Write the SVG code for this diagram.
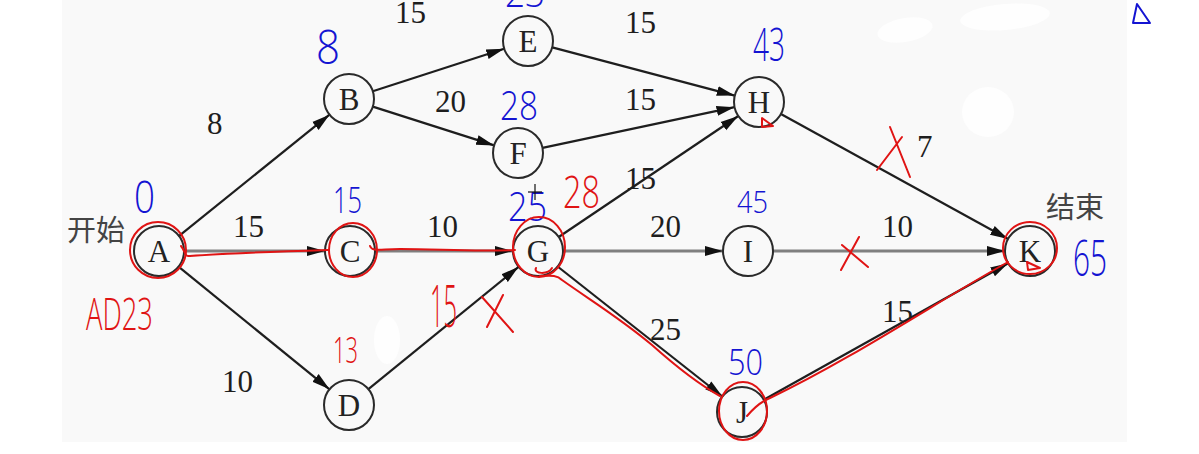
<svg xmlns="http://www.w3.org/2000/svg" width="1199" height="454" viewBox="0 0 1199 454">
<defs>
<style>
.node circle{fill:none;stroke:#2a2a2a;stroke-width:2}
.node text{font-family:"Liberation Serif",serif;font-size:31px;fill:#222;text-anchor:middle}
.edge{stroke:#1e1e1e;stroke-width:2.2;fill:none;marker-end:url(#arr)}
.edge.h{stroke:#808080;stroke-width:3.2}
.lbl{font-family:"Liberation Serif",serif;font-size:31px;fill:#1e1e1e}
.cn{font-family:"Noto Sans CJK SC",sans-serif;font-size:29px;fill:#444}
.hb{font-family:"Open Sans","Liberation Sans",sans-serif;font-weight:300;fill:#1414d2}
.hr{font-family:"Open Sans","Liberation Sans",sans-serif;font-weight:300;fill:#e01414}
.rs{stroke:#e01414;stroke-width:2;fill:none;stroke-linecap:round;stroke-linejoin:round}
</style>
<marker id="arr" markerUnits="userSpaceOnUse" markerWidth="20" markerHeight="12" refX="18" refY="6" orient="auto">
<path d="M0,1 L18,6 L0,11 Z" fill="#111"/>
</marker>
</defs>
<rect width="1199" height="454" fill="#ffffff"/>
<rect x="62" y="0" width="1065" height="442" fill="#f9f9f9"/>
<g id="blobs" fill="#fefefe">
<ellipse cx="905" cy="30" rx="28" ry="12" transform="rotate(-10 905 30)"/>
<ellipse cx="1005" cy="17" rx="45" ry="13" transform="rotate(-5 1005 17)"/>
<ellipse cx="988" cy="112" rx="26" ry="25"/>
<ellipse cx="387" cy="340" rx="13" ry="24"/>
</g>
<g id="connectors">
<line class="edge" x1="178.5" y1="236.3" x2="329.5" y2="114.7"/>
<line class="edge h" x1="184" y1="251" x2="325" y2="251"/>
<line class="edge" x1="178.5" y1="266.7" x2="329.5" y2="389.3"/>
<line class="edge" x1="372.8" y1="91.3" x2="504.2" y2="48.7"/>
<line class="edge" x1="372.8" y1="106.6" x2="494.2" y2="145.4"/>
<line class="edge h" x1="375" y1="251" x2="513" y2="251"/>
<line class="edge" x1="368.4" y1="389.2" x2="518.6" y2="266.8"/>
<line class="edge" x1="552.2" y1="47.4" x2="734.8" y2="95.6"/>
<line class="edge" x1="542.5" y1="147.8" x2="734.5" y2="107.2"/>
<line class="edge" x1="558.7" y1="237" x2="738.3" y2="116"/>
<line class="edge h" x1="563" y1="251" x2="723" y2="251"/>
<line class="edge" x1="557.6" y1="266.5" x2="722.4" y2="396.5"/>
<line class="edge" x1="780.9" y1="114" x2="1008.1" y2="239"/>
<line class="edge h" x1="773" y1="251" x2="1005" y2="251"/>
<line class="edge" x1="763.8" y1="399.8" x2="1008.2" y2="263.2"/>
</g>
<g id="edge-labels">
<text class="lbl" x="207" y="134">8</text>
<text class="lbl" x="395" y="23">15</text>
<text class="lbl" x="435" y="112">20</text>
<text class="lbl" x="625" y="33">15</text>
<text class="lbl" x="625" y="110">15</text>
<text class="lbl" x="625" y="189">15</text>
<text class="lbl" x="917" y="157">7</text>
<text class="lbl" x="233" y="237">15</text>
<text class="lbl" x="427" y="237">10</text>
<text class="lbl" x="650" y="237">20</text>
<text class="lbl" x="882" y="237">10</text>
<text class="lbl" x="650" y="340">25</text>
<text class="lbl" x="882" y="322">15</text>
<text class="lbl" x="222" y="392">10</text>
</g>
<g id="node-A" class="node"><circle cx="159" cy="251" r="25"/><text x="159" y="262">A</text></g>
<g id="node-B" class="node"><circle cx="349" cy="99" r="25"/><text x="349" y="110">B</text></g>
<g id="node-C" class="node"><circle cx="350" cy="251" r="25"/><text x="350" y="262">C</text></g>
<g id="node-D" class="node"><circle cx="349" cy="405" r="25"/><text x="349" y="416">D</text></g>
<g id="node-E" class="node"><circle cx="528" cy="41" r="25"/><text x="528" y="52">E</text></g>
<g id="node-F" class="node"><circle cx="518" cy="153" r="25"/><text x="518" y="164">F</text></g>
<g id="node-G" class="node"><circle cx="538" cy="251" r="25"/><text x="538" y="262">G</text></g>
<g id="node-H" class="node"><circle cx="759" cy="102" r="25"/><text x="759" y="113">H</text></g>
<g id="node-I" class="node"><circle cx="748" cy="251" r="25"/><text x="748" y="262">I</text></g>
<g id="node-J" class="node"><circle cx="742" cy="412" r="25"/><text x="742" y="423">J</text></g>
<g id="node-K" class="node"><circle cx="1030" cy="251" r="25"/><text x="1030" y="262">K</text></g>
<text class="cn" x="67" y="241">开始</text>
<text class="cn" x="1046" y="218">结束</text>
<g id="blue-notes">
<text class="hb" x="134" y="213" font-size="44" textLength="21" lengthAdjust="spacingAndGlyphs">0</text>
<text class="hb" x="316" y="64" font-size="48" textLength="24" lengthAdjust="spacingAndGlyphs">8</text>
<text class="hb" x="505" y="7" font-size="40" textLength="40" lengthAdjust="spacingAndGlyphs">23</text>
<text class="hb" x="500" y="120" font-size="40" textLength="38" lengthAdjust="spacingAndGlyphs">28</text>
<text class="hb" x="753" y="61" font-size="46" textLength="32" lengthAdjust="spacingAndGlyphs">43</text>
<text class="hb" x="508" y="221" font-size="40" textLength="39" lengthAdjust="spacingAndGlyphs">25</text>
<text class="hb" x="333" y="213" font-size="36" textLength="29" lengthAdjust="spacingAndGlyphs">15</text>
<text class="hb" x="737" y="213" font-size="32" textLength="31" lengthAdjust="spacingAndGlyphs">45</text>
<text class="hb" x="728" y="375" font-size="37" textLength="35" lengthAdjust="spacingAndGlyphs">50</text>
<text class="hb" x="1073" y="276" font-size="50" textLength="34" lengthAdjust="spacingAndGlyphs">65</text>
<path d="M1133,23 L1137,4 L1150,23 Z" fill="none" stroke="#1414d2" stroke-width="2" stroke-linejoin="round"/>
</g>
<g id="red-notes">
<text class="hr" x="86" y="330" font-size="44" textLength="67" lengthAdjust="spacingAndGlyphs">AD23</text>
<text class="hr" x="563" y="208" font-size="44" textLength="37" lengthAdjust="spacingAndGlyphs">28</text>
<text class="hr" x="430" y="327" font-size="58" textLength="27" lengthAdjust="spacingAndGlyphs">15</text>
<text class="hr" x="333" y="363" font-size="36" textLength="25" lengthAdjust="spacingAndGlyphs">13</text>
<ellipse class="rs" cx="158" cy="250" rx="28" ry="28"/>
<ellipse class="rs" cx="353" cy="250" rx="24" ry="27"/>
<ellipse class="rs" cx="539" cy="247" rx="26" ry="30"/>
<ellipse class="rs" cx="743" cy="411" rx="24" ry="29"/>
<ellipse class="rs" cx="1030" cy="248" rx="27" ry="26"/>
<path class="rs" d="M181,246 C186,252 184,257 190,256 C215,254 260,252 328,250"/>
<path class="rs" d="M370,246 C372,252 380,249 400,249 C440,249 470,252 515,250"/>
<path class="rs" d="M536,268 C533,274 548,275 552,268 M540,276 C548,276 556,274 562,280 C590,300 620,318 652,345 C680,370 700,385 720,396"/>
<path class="rs" d="M747,416 C752,410 760,402 770,398 C850,360 940,300 1008,262"/>
<path class="rs" d="M482,297 L513,332 M503,295 L487,327"/>
<path class="rs" d="M842,245 L868,267 M859,237 L841,270"/>
<path class="rs" d="M877,170 L902,137 M890,127 L910,177"/>
<path class="rs" d="M762,118 L762,127 L773,126 Z"/>
<path class="rs" d="M1027,262 L1028,270 L1040,268 Z"/>
</g>
<g id="cursor" stroke="#111" stroke-width="1.2">
<line x1="528" y1="192" x2="542" y2="192"/>
<line x1="535" y1="184" x2="535" y2="200"/>
</g>
</svg>
